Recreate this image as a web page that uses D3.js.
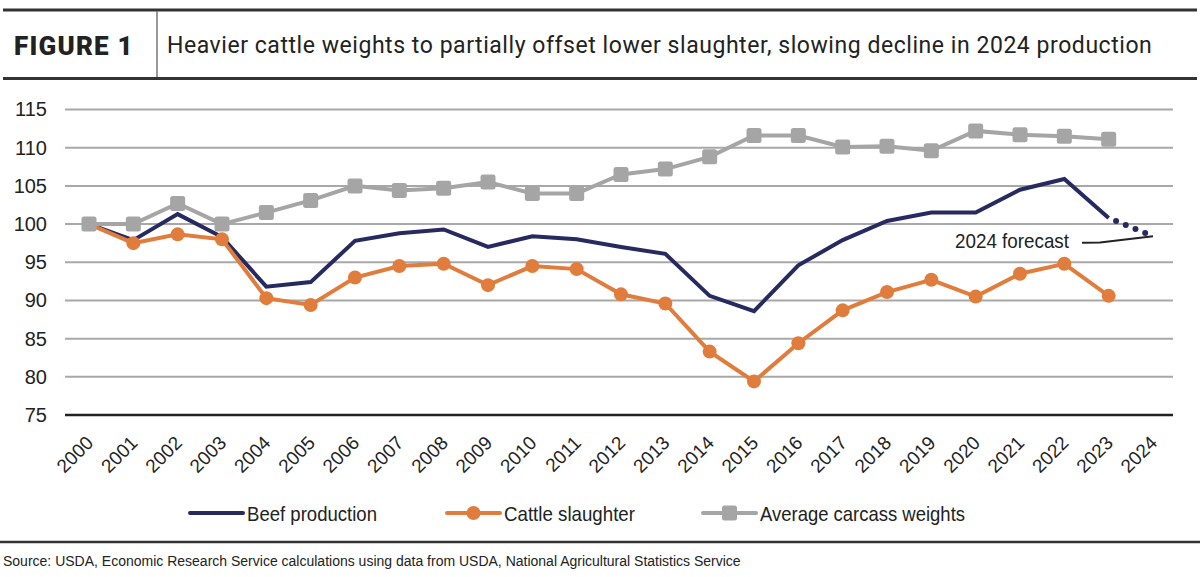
<!DOCTYPE html>
<html>
<head>
<meta charset="UTF-8">
<title>Figure 1</title>
<script src="https://cdn.jsdelivr.net/npm/d3@7"></script>
<style>
  body { margin: 0; background: #fff; }
  svg { display: block; }
</style>
</head>
<body>
<script>
// chart data
var years = ["2000","2001","2002","2003","2004","2005","2006","2007","2008","2009","2010","2011",
             "2012","2013","2014","2015","2016","2017","2018","2019","2020","2021","2022","2023","2024"];
var beefProduction = [100, 97.9, 101.3, 98.3, 91.8, 92.4, 97.8, 98.8, 99.3, 97.0, 98.4, 98.0,
                      97.0, 96.1, 90.6, 88.6, 94.6, 97.9, 100.4, 101.5, 101.5, 104.5, 105.9, 100.8];
var beefForecast = [["2023", 100.8], ["2024", 98.4]];
var cattleSlaughter = [100, 97.5, 98.65, 98.0, 90.3, 89.4, 93.0, 94.5, 94.8, 92.0, 94.5, 94.1,
                       90.8, 89.6, 83.3, 79.4, 84.4, 88.7, 91.1, 92.7, 90.5, 93.5, 94.8, 90.6];
var carcassWeights = [100, 100, 102.7, 100, 101.5, 103.1, 105.0, 104.4, 104.7, 105.5, 104.0, 104.0,
                      106.5, 107.2, 108.8, 111.6, 111.6, 110.1, 110.2, 109.6, 112.2, 111.7, 111.5, 111.1];
var yTicks = [75, 80, 85, 90, 95, 100, 105, 110, 115];
var seriesNames = ["Beef production", "Cattle slaughter", "Average carcass weights"];

var W = 1200, H = 577;
var navy = "#272a5f", orange = "#e07d3c", grey = "#a5a5a5";
var sans = "'Liberation Sans', Arial, sans-serif";

var svg = d3.select("body").append("svg").attr("width", W).attr("height", H);

// header
svg.append("line").attr("x1", 3).attr("x2", 1197).attr("y1", 10).attr("y2", 10)
   .attr("stroke", "#333").attr("stroke-width", 3);
svg.append("line").attr("x1", 3).attr("x2", 1197).attr("y1", 78.5).attr("y2", 78.5)
   .attr("stroke", "#333").attr("stroke-width", 3);
svg.append("line").attr("x1", 157).attr("x2", 157).attr("y1", 11).attr("y2", 77)
   .attr("stroke", "#777").attr("stroke-width", 1.5);
svg.append("text").attr("x", 14).attr("y", 55)
   .attr("font-family", "Roboto, sans-serif").attr("font-weight", 900)
   .attr("font-size", 26).attr("letter-spacing", 1.2).attr("fill", "#222")
   .text("FIGURE 1");
svg.append("text").attr("x", 167).attr("y", 53)
   .attr("font-family", "Roboto, sans-serif").attr("font-size", 23).attr("letter-spacing", 0.55)
   .attr("fill", "#222")
   .text("Heavier cattle weights to partially offset lower slaughter, slowing decline in 2024 production");

// scales
var x = d3.scalePoint().domain(years).range([89, 1153]);
var y = d3.scaleLinear().domain([75, 115]).range([415, 109.5]);

// grid
var grid = svg.append("g");
grid.selectAll("line").data(yTicks.slice(1)).enter().append("line")
   .attr("x1", 65).attr("x2", 1173)
   .attr("y1", function(d){ return y(d); }).attr("y2", function(d){ return y(d); })
   .attr("stroke", "#a8a8a8").attr("stroke-width", 2);

// y axis labels
var yAxis = svg.append("g").attr("transform", "translate(54,0)")
   .call(d3.axisLeft(y).tickValues(yTicks).tickSize(0).tickPadding(7));
yAxis.select(".domain").remove();
yAxis.selectAll("text").attr("font-family", sans).attr("font-size", 20).attr("fill", "#222");

// x axis
var xAxis = svg.append("g").attr("transform", "translate(0,415)")
   .call(d3.axisBottom(x).tickSize(0).tickPadding(0));
xAxis.select(".domain").attr("d", "M65,0H1173").attr("stroke", "#222").attr("stroke-width", 2.5);
xAxis.selectAll("text")
   .attr("font-family", sans).attr("font-size", 19).attr("fill", "#222")
   .attr("text-anchor", "end").attr("dy", 0)
   .attr("transform", "translate(5,29) rotate(-45)");

// lines (navy under orange under grey)
var line = d3.line().x(function(d){ return x(d[0]); }).y(function(d){ return y(d[1]); });
function pairs(vals){ return vals.map(function(v, i){ return [years[i], v]; }); }

svg.append("path").datum(pairs(beefProduction)).attr("d", line)
   .attr("fill", "none").attr("stroke", navy).attr("stroke-width", 4);
svg.append("path").datum(beefForecast).attr("d", line)
   .attr("fill", "none").attr("stroke", navy).attr("stroke-width", 6)
   .attr("stroke-linecap", "round").attr("stroke-dasharray", "0 10.5")
   .attr("stroke-dashoffset", -8);

svg.append("path").datum(pairs(cattleSlaughter)).attr("d", line)
   .attr("fill", "none").attr("stroke", orange).attr("stroke-width", 4);
svg.append("g").selectAll("circle").data(pairs(cattleSlaughter)).enter().append("circle")
   .attr("cx", function(d){ return x(d[0]); }).attr("cy", function(d){ return y(d[1]); })
   .attr("r", 7).attr("fill", orange);

svg.append("path").datum(pairs(carcassWeights)).attr("d", line)
   .attr("fill", "none").attr("stroke", grey).attr("stroke-width", 4);
svg.append("g").selectAll("rect").data(pairs(carcassWeights)).enter().append("rect")
   .attr("x", function(d){ return x(d[0]) - 7.5; }).attr("y", function(d){ return y(d[1]) - 7.5; })
   .attr("width", 15).attr("height", 15).attr("rx", 2.5).attr("fill", grey);

// forecast annotation
var fx = x("2024"), fy = y(beefForecast[1][1]);
svg.append("text").attr("x", 955).attr("y", 248)
   .attr("font-family", sans).attr("font-size", 21).attr("fill", "#222")
   .attr("textLength", 114).attr("lengthAdjust", "spacingAndGlyphs")
   .text("2024 forecast");
svg.append("path")
   .attr("d", "M1082," + (fy + 6.5) + "L1100," + (fy + 6.2) + "L" + fx + "," + fy)
   .attr("fill", "none").attr("stroke", "#222").attr("stroke-width", 2);

// legend
var legendX = [190, 447, 703];
var legendW = [130, 131, 205];
var legend = svg.append("g").selectAll("g").data(seriesNames).enter().append("g")
   .attr("transform", function(d, i){ return "translate(" + legendX[i] + ",513)"; });
legend.append("line").attr("x1", 0).attr("x2", 53).attr("y1", 0).attr("y2", 0)
   .attr("stroke", function(d, i){ return [navy, orange, grey][i]; })
   .attr("stroke-width", 4).attr("stroke-linecap", "round");
legend.filter(function(d, i){ return i === 1; }).append("circle")
   .attr("cx", 26.5).attr("cy", 0).attr("r", 7).attr("fill", orange);
legend.filter(function(d, i){ return i === 2; }).append("rect")
   .attr("x", 19).attr("y", -7.5).attr("width", 15).attr("height", 15).attr("rx", 2.5).attr("fill", grey);
legend.append("text").attr("x", 57).attr("y", 7.5)
   .attr("font-family", sans).attr("font-size", 21).attr("fill", "#222")
   .attr("textLength", function(d, i){ return legendW[i]; }).attr("lengthAdjust", "spacingAndGlyphs")
   .text(function(d){ return d; });

// footer
svg.append("line").attr("x1", 0).attr("x2", 1200).attr("y1", 542).attr("y2", 542)
   .attr("stroke", "#333").attr("stroke-width", 2.5);
svg.append("text").attr("x", 3).attr("y", 566)
   .attr("font-family", sans).attr("font-size", 14).attr("fill", "#222")
   .text("Source: USDA, Economic Research Service calculations using data from USDA, National Agricultural Statistics Service");
</script>
</body>
</html>
